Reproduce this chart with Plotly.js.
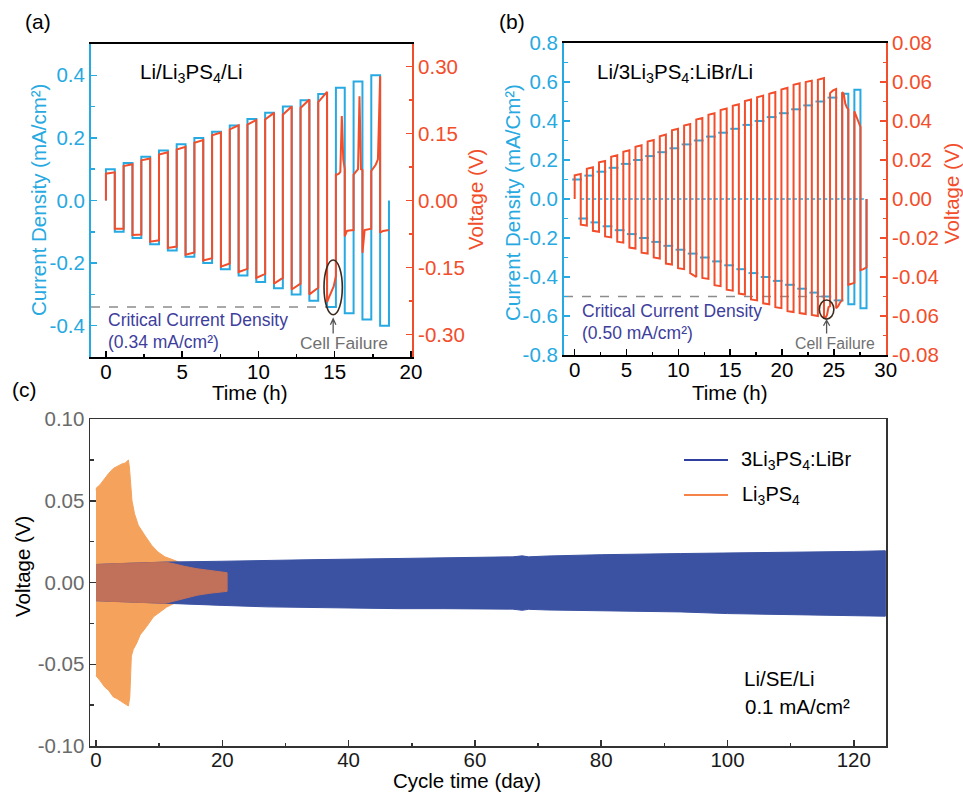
<!DOCTYPE html>
<html><head><meta charset="utf-8">
<script src="https://cdn.plot.ly/plotly-3.0.1.min.js"></script>
<style>html,body{margin:0;padding:0;background:#fff}</style>
</head><body><div id="chart" style="width:963px;height:794px"></div>
<script>
// ---------- Panel (a): Li/Li3PS4/Li ----------
const currentA = [0.10,0.12,0.14,0.16,0.18,0.20,0.22,0.24,0.26,0.28,0.30,0.32,0.34,0.36,0.38,0.40];
const voltA_pos = [
 [0.060,0.063],[0.077,0.081],[0.090,0.094],[0.103,0.108],[0.114,0.120],[0.129,0.135],
 [0.146,0.152],[0.159,0.168],[0.170,0.180],[0.181,0.196],[0.192,0.210],[0.207,0.226],[0.220,0.243],
 [0.058,0.058,0.060,0.064,0.189,0.092,0.070],
 [0.058,0.062,0.066,0.070,0.233,0.070,0.068],
 [0.066,0.072,0.080,0.092,0.278]
];
const voltA_neg = [
 [-0.063,-0.063],[-0.077,-0.076],[-0.092,-0.089],[-0.106,-0.103],[-0.121,-0.116],[-0.134,-0.129],
 [-0.148,-0.141],[-0.160,-0.153],[-0.173,-0.164],[-0.186,-0.173],[-0.199,-0.186],[-0.210,-0.195],
 [-0.227,-0.215,-0.205,-0.192,-0.169],
 [-0.080,-0.068,-0.067,-0.066,-0.066],
 [-0.117,-0.066,-0.065,-0.064,-0.063],
 [-0.072,-0.068,-0.067,-0.066]
];
const halfStepA = 0.58;            // hours per half cycle
const ccdA = -0.34;

// ---------- Panel (b): Li/3Li3PS4:LiBr/Li ----------
const currentB = [0.10,0.12,0.14,0.16,0.18,0.20,0.22,0.24,0.26,0.28,0.30,0.32,0.34,0.36,0.38,0.40,0.42,0.44,0.46,0.48,0.50,0.52,0.54,0.56];
const voltB_pos = [
 [0.0122,0.0128],[0.0155,0.0163],[0.0188,0.0195],[0.0216,0.0224],[0.0242,0.0250],[0.0268,0.0276],
 [0.0295,0.0303],[0.0322,0.0330],[0.0352,0.0360],[0.0377,0.0385],[0.0407,0.0415],[0.0432,0.0440],
 [0.0456,0.0464],[0.0478,0.0486],[0.0502,0.0510],[0.0522,0.0530],[0.0540,0.0548],[0.0562,0.0570],
 [0.0586,0.0594],[0.0600,0.0607],[0.0612,0.0620],
 [0.0543,0.0557,0.0564],
 [0.0548,0.0540,0.0490,0.0470,0.0460],
 [0.0450,0.0430,0.0400,0.0380,0.0370]
];
const voltB_neg = [
 [-0.0132,-0.0136],[-0.0163,-0.0168],[-0.0192,-0.0197],[-0.0219,-0.0224],[-0.0249,-0.0254],[-0.0275,-0.0280],
 [-0.0300,-0.0305],[-0.0331,-0.0336],[-0.0355,-0.0360],[-0.0380,-0.0400],[-0.0405,-0.0410],[-0.0442,-0.0447],
 [-0.0465,-0.0470],[-0.0485,-0.0490],[-0.0515,-0.0520],[-0.0535,-0.0540],[-0.0555,-0.0560],[-0.0575,-0.0580],
 [-0.0585,-0.0590],[-0.0595,-0.0600],
 [-0.0605,-0.0610,-0.0595,-0.0555,-0.0550],
 [-0.0560,-0.0550,-0.0530,-0.0520],
 [-0.0440,-0.0435,-0.0430],
 [-0.0365,-0.0360,-0.0350]
];
const halfStepB = 0.5865;
const fullBoxFromB = 22;           // cycles drawn as full current boxes
const ccdB = -0.50;

// ---------- Panel (c): long-term cycling envelopes ----------
const blueDays  = [0, 5, 11, 20, 27, 35, 48, 55, 61, 66, 67.5, 68.5, 71.5, 80, 92.6, 100, 113.7, 120, 125];
const blueUp    = [0.0110, 0.0118, 0.0125, 0.0130, 0.0133, 0.0140, 0.0147, 0.0150, 0.0153, 0.0157, 0.0163, 0.0157, 0.0162, 0.0170, 0.0177, 0.0180, 0.0184, 0.0190, 0.0194];
const blueLo    = [-0.0111, -0.0119, -0.0128, -0.0140, -0.0149, -0.0153, -0.0160, -0.0160, -0.0160, -0.0163, -0.0170, -0.0164, -0.0168, -0.0175, -0.0180, -0.0190, -0.0200, -0.0203, -0.0206];

const orangeUpDays = [0, 0.1, 0.6, 1.4, 2.0, 2.75, 3.3, 4.1, 4.6, 5.13, 5.3, 5.5, 5.7, 6.1, 6.7, 7.7, 8.8, 9.8, 10.9, 11.9, 13.3, 14.4, 16.5, 18.6, 20.76];
const orangeUp     = [0.0565, 0.0580, 0.0596, 0.0637, 0.0667, 0.0698, 0.0710, 0.0725, 0.0730, 0.0749, 0.0700, 0.0600, 0.0500, 0.0420, 0.0350, 0.0290, 0.0228, 0.0187, 0.0157, 0.0143, 0.0120, 0.0106, 0.0086, 0.0071, 0.0063];
const orangeLoDays = [0, 0.6, 1.4, 2.0, 2.75, 3.3, 4.1, 4.6, 5.13, 5.35, 5.6, 5.9, 6.45, 7.0, 8.0, 9.1, 10.1, 11.2, 12.25, 13.3, 14.4, 16.5, 18.6, 20.76];
const orangeLo     = [-0.0570, -0.0598, -0.0640, -0.0660, -0.0700, -0.0710, -0.0730, -0.0740, -0.0755, -0.0700, -0.0450, -0.0410, -0.0370, -0.0320, -0.0270, -0.0210, -0.0180, -0.0150, -0.0130, -0.0120, -0.0106, -0.0086, -0.0071, -0.0063];

const overlapDays = [0, 2, 5, 8, 10, 11, 12, 13, 14, 16, 18, 20, 20.76];
const overlapUp   = [0.0110, 0.0114, 0.0118, 0.0121, 0.0123, 0.0124, 0.0117, 0.0110, 0.0099, 0.0084, 0.0073, 0.0064, 0.0060];
const overlapLo   = [-0.0111, -0.0115, -0.0119, -0.0122, -0.0126, -0.0127, -0.0120, -0.0110, -0.0097, -0.0078, -0.0066, -0.0057, -0.0054];

// ---------- tick labels ----------
const tickA_x = [0,5,10,15,20];
const tickA_yL = [-0.4,-0.2,0,0.2,0.4], tickA_yLtxt = ['-0.4','-0.2','0.0','0.2','0.4'];
const tickA_yR = [-0.30,-0.15,0,0.15,0.30], tickA_yRtxt = ['-0.30','-0.15','0.00','0.15','0.30'];
const tickB_x = [0,5,10,15,20,25,30];
const tickB_yL = [-0.8,-0.6,-0.4,-0.2,0,0.2,0.4,0.6,0.8], tickB_yLtxt = ['-0.8','-0.6','-0.4','-0.2','0.0','0.2','0.4','0.6','0.8'];
const tickB_yR = [-0.08,-0.06,-0.04,-0.02,0,0.02,0.04,0.06,0.08], tickB_yRtxt = ['-0.08','-0.06','-0.04','-0.02','0.00','0.02','0.04','0.06','0.08'];
const tickC_x = [0,20,40,60,80,100,120];
const tickC_y = [-0.10,-0.05,0,0.05,0.10], tickC_ytxt = ['-0.10','-0.05','0.00','0.05','0.10'];

// ---------- builders ----------
function pushSeg(x, y, t0, h, s) {
  const n = s.length;
  for (let i = 0; i < n; i++) { x.push(t0 + h * i / (n - 1)); y.push(s[i]); }
}
function voltageWave(pos, neg, h, closeToZero) {
  const x = [0], y = [0];
  for (let k = 0; k < pos.length; k++) {
    const t0 = 2 * k * h;
    pushSeg(x, y, t0, h, pos[k]);
    if (k < neg.length) pushSeg(x, y, t0 + h, h, neg[k]);
  }
  if (closeToZero) { x.push(x[x.length - 1]); y.push(0); }
  return {x, y};
}
function currentWave(levels, h, fromIdx) {
  const x = [], y = [];
  const start = fromIdx || 0;
  x.push(2 * start * h); y.push(0);
  for (let k = start; k < levels.length; k++) {
    const t0 = 2 * k * h, I = levels[k];
    x.push(t0, t0 + h, t0 + h, t0 + 2 * h); y.push(I, I, -I, -I);
  }
  x.push(2 * levels.length * h); y.push(0);
  return {x, y};
}
function band(xu, yu, xl, yl) {
  return {x: xu.concat(xl.slice().reverse()), y: yu.concat(yl.slice().reverse())};
}

const F = 'Liberation Sans, Arial, Helvetica, sans-serif';
const BLUE = '#27a9e1', RED = '#f24e2b';

const curA = currentWave(currentA, halfStepA, 0);
const volA = voltageWave(voltA_pos, voltA_neg, halfStepA, false);
const curBfull = currentWave(currentB, halfStepB, fullBoxFromB);
const volB = voltageWave(voltB_pos, voltB_neg, halfStepB, true);

// blue current readings in (b): short dashes at each level, and at zero at each switch
const dashX = [], dashY = [];
for (let k = 0; k < fullBoxFromB; k++) {
  const t0 = 2 * k * halfStepB;
  dashX.push(t0 + 0.4 * halfStepB, t0 + 1.4 * halfStepB);
  dashY.push(currentB[k], -currentB[k]);
}
const zeroX = [], zeroY = [];
for (let j = 1; j < 2 * currentB.length; j++) { zeroX.push(j * halfStepB + 0.12); zeroY.push(0); }

const bandBlue = band(blueDays, blueUp, blueDays, blueLo);
const bandOrange = band(orangeUpDays, orangeUp, orangeLoDays, orangeLo);
const bandOverlap = band(overlapDays, overlapUp, overlapDays, overlapLo);

const traces = [
  {x: curA.x, y: curA.y, xaxis: 'x', yaxis: 'y', mode: 'lines', line: {color: BLUE, width: 2}},
  {x: volA.x, y: volA.y, xaxis: 'x', yaxis: 'y2', mode: 'lines', line: {color: RED, width: 2}},
  {x: dashX, y: dashY, xaxis: 'x2', yaxis: 'y3', mode: 'markers',
   marker: {symbol: 'line-ew', size: 7, line: {color: BLUE, width: 2}}},
  {x: zeroX, y: zeroY, xaxis: 'x2', yaxis: 'y3', mode: 'markers',
   marker: {symbol: 'line-ew', size: 3, line: {color: BLUE, width: 1.5}}},
  {x: curBfull.x, y: curBfull.y, xaxis: 'x2', yaxis: 'y3', mode: 'lines', line: {color: BLUE, width: 2}},
  {x: volB.x, y: volB.y, xaxis: 'x2', yaxis: 'y4', mode: 'lines', line: {color: RED, width: 2}},
  {x: bandOrange.x, y: bandOrange.y, xaxis: 'x3', yaxis: 'y5', mode: 'lines', fill: 'toself',
   fillcolor: '#f5a25c', line: {color: '#f5a25c', width: 1}},
  {x: bandBlue.x, y: bandBlue.y, xaxis: 'x3', yaxis: 'y5', mode: 'lines', fill: 'toself',
   fillcolor: '#3b52a2', line: {color: '#3b52a2', width: 1}},
  {x: bandOverlap.x, y: bandOverlap.y, xaxis: 'x3', yaxis: 'y5', mode: 'lines', fill: 'toself',
   fillcolor: '#c1705a', line: {color: '#c1705a', width: 1}}
];
traces.forEach(t => { t.type = 'scatter'; t.showlegend = false; t.hoverinfo = 'skip'; });

const W = 963, H = 794;
const px = v => v / W, py = v => 1 - v / H;
const TF = 20.5;

function axis(o) {
  return Object.assign({showgrid: false, zeroline: false, ticks: 'inside', ticklen: 6, tickwidth: 1.5,
    showline: true, linewidth: 2, fixedrange: true, tickfont: {family: F, size: TF}}, o);
}
function minor(vals, color) { return {tickvals: vals, ticks: 'inside', ticklen: 3.5, tickwidth: 1.5, tickcolor: color}; }

const layout = {
  width: W, height: H, margin: {l: 0, r: 0, t: 0, b: 0},
  paper_bgcolor: '#fff', plot_bgcolor: 'rgba(0,0,0,0)', showlegend: false,
  font: {family: F, color: '#000'},
  xaxis: axis({domain: [px(91), px(412)], anchor: 'y', range: [-0.98, 20.07], tickvals: tickA_x,
    linecolor: '#000', tickcolor: '#000', mirror: true, ticklabelstandoff: -5, tickfont: {family: F, size: TF, color: '#000'},
    minor: minor([2.5, 7.5, 12.5, 17.5], '#000')}),
  yaxis: axis({domain: [py(357), py(44)], anchor: 'x', range: [-0.5, 0.5], tickvals: tickA_yL, ticktext: tickA_yLtxt,
    linecolor: BLUE, tickcolor: BLUE, tickfont: {family: F, size: TF, color: BLUE},
    minor: minor([-0.3, -0.1, 0.1, 0.3], BLUE)}),
  yaxis2: axis({overlaying: 'y', side: 'right', anchor: 'x', range: [-0.35, 0.35], tickvals: tickA_yR, ticktext: tickA_yRtxt,
    linecolor: RED, tickcolor: RED, tickfont: {family: F, size: TF, color: RED},
    minor: minor([-0.225, -0.075, 0.075, 0.225], RED)}),
  xaxis2: axis({domain: [px(564), px(886)], anchor: 'y3', range: [-1.03, 30.03], tickvals: tickB_x,
    linecolor: '#000', tickcolor: '#000', mirror: true, ticklabelstandoff: -5, tickfont: {family: F, size: TF, color: '#000'},
    minor: minor([2.5, 7.5, 12.5, 17.5, 22.5, 27.5], '#000')}),
  yaxis3: axis({domain: [py(355), py(43)], anchor: 'x2', range: [-0.8, 0.8], tickvals: tickB_yL, ticktext: tickB_yLtxt,
    linecolor: BLUE, tickcolor: BLUE, tickfont: {family: F, size: TF, color: BLUE},
    minor: minor([-0.7, -0.5, -0.3, -0.1, 0.1, 0.3, 0.5, 0.7], BLUE)}),
  yaxis4: axis({overlaying: 'y3', side: 'right', anchor: 'x2', range: [-0.08, 0.08], tickvals: tickB_yR, ticktext: tickB_yRtxt,
    linecolor: RED, tickcolor: RED, tickfont: {family: F, size: TF, color: RED},
    minor: minor([-0.07, -0.05, -0.03, -0.01, 0.01, 0.03, 0.05, 0.07], RED)}),
  xaxis3: axis({domain: [px(90), px(886)], anchor: 'y5', range: [-0.95, 125.1], tickvals: tickC_x,
    linecolor: '#333', tickcolor: '#333', linewidth: 1.5, mirror: true, ticklabelstandoff: -5, tickfont: {family: F, size: TF, color: '#1a1a1a'},
    minor: minor([10, 30, 50, 70, 90, 110], '#333')}),
  yaxis5: axis({domain: [py(746), py(419)], anchor: 'x3', range: [-0.1, 0.1], tickvals: tickC_y, ticktext: tickC_ytxt,
    linecolor: '#333', tickcolor: '#333', linewidth: 1.5, mirror: true, tickfont: {family: F, size: TF, color: '#6a6a6a'},
    minor: minor([-0.075, -0.025, 0.025, 0.075], '#333')}),
  shapes: [
    {type: 'line', xref: 'x', yref: 'y', x0: -0.98, x1: 14.8, y0: ccdA, y1: ccdA, layer: 'below',
     line: {color: '#8c8c8c', width: 1.5, dash: 'dash'}},
    {type: 'line', xref: 'x2', yref: 'y3', x0: -1.03, x1: 24.3, y0: ccdB, y1: ccdB, layer: 'below',
     line: {color: '#8c8c8c', width: 1.5, dash: 'dash'}},
    {type: 'circle', xref: 'x', yref: 'y', x0: 14.3, x1: 15.5, y0: -0.365, y1: -0.19,
     line: {color: '#3b2a1e', width: 1.6}},
    {type: 'circle', xref: 'x2', yref: 'y3', x0: 23.6, x1: 25.0, y0: -0.616, y1: -0.518,
     line: {color: '#3b2a1e', width: 1.6}},
    // "Cell Failure" arrows (shaft + head)
    {type: 'path', xref: 'x', yref: 'y', path: 'M 14.9,-0.425 L 14.9,-0.38 M 14.72,-0.397 L 14.9,-0.378 L 15.08,-0.397',
     line: {color: '#555', width: 1.3}},
    {type: 'path', xref: 'x2', yref: 'y3', path: 'M 24.3,-0.69 L 24.3,-0.624 M 24.0,-0.65 L 24.3,-0.622 L 24.6,-0.65',
     line: {color: '#555', width: 1.3}},
    // legend samples for (c)
    {type: 'line', xref: 'paper', yref: 'paper', x0: px(684), x1: px(728), y0: py(460), y1: py(460),
     line: {color: '#2e3f9e', width: 2}},
    {type: 'line', xref: 'paper', yref: 'paper', x0: px(684), x1: px(728), y0: py(495), y1: py(495),
     line: {color: '#f5834a', width: 2}}
  ],
  annotations: []
};

function note(text, x, y, o) {
  layout.annotations.push(Object.assign({text: text, xref: 'paper', yref: 'paper', x: px(x), y: py(y),
    showarrow: false, xanchor: 'center', yanchor: 'middle', font: {family: F, size: TF, color: '#000'}}, o || {}));
}
note('(a)', 38, 22, {font: {family: F, size: 21, color: '#000'}});
note('(b)', 512, 22, {font: {family: F, size: 21, color: '#000'}});
note('(c)', 24, 389, {font: {family: F, size: 21, color: '#000'}});
note('Current Density (mA/cm²)', 38, 200, {textangle: -90, font: {family: F, size: TF, color: BLUE}});
note('Voltage (V)', 475, 200, {textangle: -90, font: {family: F, size: TF, color: RED}});
note('Current Density (mA/Cm²)', 512, 203, {textangle: -90, font: {family: F, size: TF, color: BLUE}});
note('Voltage (V)', 951, 194, {textangle: -90, font: {family: F, size: TF, color: RED}});
note('Time (h)', 250, 392);
note('Time (h)', 730, 392);
note('Voltage (V)', 22, 567, {textangle: -90});
note('Cycle time (day)', 467, 780);
note('Li/Li<sub>3</sub>PS<sub>4</sub>/Li', 138, 73, {xanchor: 'left'});
note('Li/3Li<sub>3</sub>PS<sub>4</sub>:LiBr/Li', 595, 73, {xanchor: 'left'});
const CCD = '#3e3e9c';
note('Critical Current Density', 106, 320, {xanchor: 'left', font: {family: F, size: 17.5, color: CCD}});
note('(0.34 mA/cm²)', 106, 342, {xanchor: 'left', font: {family: F, size: 17.5, color: CCD}});
note('Critical Current Density', 580, 311, {xanchor: 'left', font: {family: F, size: 17.5, color: CCD}});
note('(0.50 mA/cm²)', 580, 333, {xanchor: 'left', font: {family: F, size: 17.5, color: CCD}});
note('Cell Failure', 344, 343, {font: {family: F, size: 17.4, color: '#707070'}});
note('Cell Failure', 835, 343, {font: {family: F, size: 15.8, color: '#707070'}});
note('3Li<sub>3</sub>PS<sub>4</sub>:LiBr', 739, 460, {xanchor: 'left', font: {family: F, size: 20, color: '#000'}});
note('Li<sub>3</sub>PS<sub>4</sub>', 740, 495, {xanchor: 'left', font: {family: F, size: 20, color: '#000'}});
note('Li/SE/Li', 742, 678, {xanchor: 'left'});
note('0.1 mA/cm²', 743, 706, {xanchor: 'left'});

Plotly.newPlot('chart', traces, layout, {displayModeBar: false, staticPlot: true});
</script></body></html>
